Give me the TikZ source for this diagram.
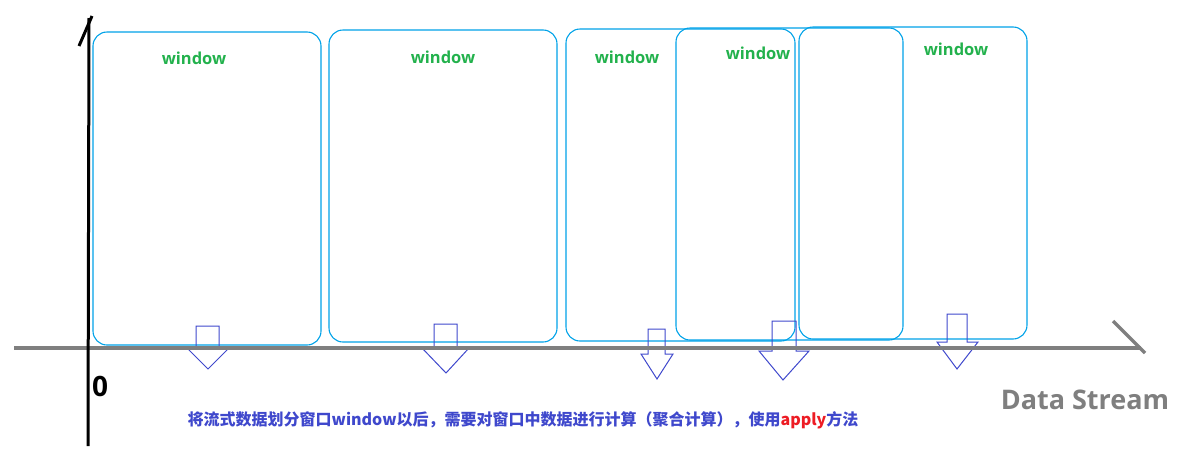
\documentclass[tikz,border=0pt]{standalone}
\usepackage{fontspec}
\newfontfamily\osans{Open Sans}
\newfontfamily\cjk{Noto Sans CJK SC}
\definecolor{wincyan}{RGB}{0,162,232}
\definecolor{wingreen}{RGB}{34,177,76}
\definecolor{indigo}{RGB}{63,72,204}
\definecolor{axgray}{RGB}{127,127,127}
\definecolor{red}{RGB}{237,28,36}
\begin{document}
\begin{tikzpicture}[x=1pt,y=-1pt,
  winbox/.style={draw=wincyan, line width=1.1pt, rounded corners=14pt, inner sep=0pt, outer sep=0pt},
  winlabel/.style={text=wingreen, font=\osans\bfseries\fontsize{16.5}{18}\selectfont, inner sep=0pt},
  downarrow/.style={draw=indigo, line width=1pt, line join=miter},
  axisline/.style={line width=3.5pt, axgray},
  yaxis/.style={line width=3pt, black}
]
\useasboundingbox (0,0) rectangle (1186,461);
% windows
\node[winbox, minimum width=228pt, minimum height=313pt] (w1) at (207,188.5) {};
\node[winbox, minimum width=228pt, minimum height=312pt] (w2) at (443,186) {};
\node[winbox, minimum width=229pt, minimum height=312pt] (w3) at (680.5,185) {};
\node[winbox, minimum width=227pt, minimum height=312pt] (w4) at (789.5,184) {};
\node[winbox, minimum width=228pt, minimum height=312pt] (w5) at (913,183) {};
% labels
\node[winlabel] (l1) at (194,58) {window};
\node[winlabel] (l2) at (443,57) {window};
\node[winlabel] (l3) at (627,57) {window};
\node[winlabel] (l4) at (758,53) {window};
\node[winlabel] (l5) at (956,49) {window};
% down arrows
\draw[downarrow] (196,347) -- (196,326) -- (219,326) -- (219,347) -- (230,347) -- (208,369) -- (186,347) -- cycle;
\draw[downarrow] (434,348) -- (434,324) -- (457,324) -- (457,348) -- (469,348) -- (446,373) -- (422,348) -- cycle;
\draw[downarrow] (648,354) -- (648,329) -- (665,329) -- (665,354) -- (673,354) -- (657,379) -- (641,354) -- cycle;
\draw[downarrow] (772,351) -- (772,321) -- (796,321) -- (796,351) -- (809,351) -- (783,380) -- (759,351) -- cycle;
\draw[downarrow] (947,342) -- (947,314) -- (967,314) -- (967,342) -- (978,342) -- (957,369) -- (937,342) -- cycle;
% axes
\coordinate (xs) at (14,348);
\coordinate (xe) at (1141,348);
\coordinate (xh) at (1113,321);
\coordinate (xt) at (1145,353);
\draw[axisline] (xs) -- (xe);
\draw[axisline] (xh) -- (xt);
\coordinate (ys) at (88,446);
\coordinate (ye) at (89,18);
\coordinate (yh) at (79,46);
\coordinate (yt) at (92,16);
\draw[yaxis] (ys) -- (ye);
\draw[yaxis] (yh) -- (yt);
% texts
\node[font=\osans\bfseries\fontsize{28}{30}\selectfont, inner sep=0pt] (zero) at (100,386) {0};
\node[font=\osans\bfseries\fontsize{27}{30}\selectfont, text=axgray, inner sep=0pt] (ds) at (1085,400) {Data Stream};
\node[font=\cjk\bfseries\fontsize{16}{18}\selectfont, text=indigo, inner sep=0pt] (cap) at (523,420) {将流式数据划分窗口window以后，需要对窗口中数据进行计算（聚合计算），使用\textcolor{red}{apply}方法};
\end{tikzpicture}
\end{document}
